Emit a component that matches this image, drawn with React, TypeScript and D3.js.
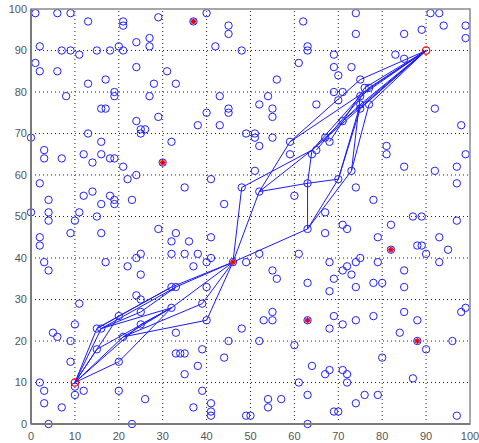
import React from 'react';
import * as d3 from 'd3';

const W = 479;
const H = 443;

const xTicks = [0, 10, 20, 30, 40, 50, 60, 70, 80, 90, 100];
const yTicks = [0, 10, 20, 30, 40, 50, 60, 70, 80, 90, 100];

// blue circle points [x, y]
const bluePoints: [number, number][] = [
  [1,99],[6,99],[9,99],[13,97],[21,97],[21,96],[29,98],[2,91],[7,90],[9,90],[11,89],[15,90],[18,90],[20,91],[21,90],[24,92],[27,93],[27,91],[1,87],[2,85],[6,85],[24,86],[13,82],[17,83],[28,82],[19,80],[19,79],[8,79],[27,79],[16,76],[17,76],[24,73],[29,74],[25,71],[26,71],[25,70],[13,70],[16,68],[0,69],[3,66],
  [40,99],[45,96],[45,94],[42,91],[48,90],[62,97],[63,91],[63,90],[61,87],[31,85],[33,82],[56,83],[43,79],[54,79],[52,77],[55,76],[55,74],[45,76],[45,75],[40,75],[65,77],[38,72],[43,72],[49,70],[51,70],[51,69],[55,69],[32,68],[52,67],[59,68],[65,66],
  [74,99],[91,99],[93,99],[94,96],[99,96],[99,93],[74,94],[85,94],[89,95],[69,89],[83,89],[85,88],[69,86],[70,84],[73,86],[75,83],[76,81],[77,81],[69,80],[71,80],[70,78],[75,79],[75,77],[75,76],[77,77],[71,73],[92,76],[98,72],[67,69],[68,68],[81,67],
  [3,64],[7,64],[12,65],[16,65],[14,63],[18,64],[19,64],[21,62],[24,60],[22,59],[2,58],[4,54],[12,55],[14,56],[18,55],[16,53],[19,54],[19,53],[23,54],[0,51],[4,51],[4,49],[11,51],[10,49],[15,50],[16,46],[9,46],[2,45],[2,43],[29,47],[3,39],[4,37],[17,39],[25,41],[24,40],[22,38],[25,36],[24,31],[25,30],
  [41,59],[35,57],[51,61],[48,57],[52,56],[63,58],[60,55],[44,53],[59,65],[64,65],[63,47],[33,46],[32,44],[36,44],[41,45],[32,41],[35,41],[38,41],[41,40],[40,39],[37,38],[49,39],[52,41],[61,41],[55,37],[56,35],[63,34],[32,33],[33,33],[40,33],
  [81,65],[99,65],[85,62],[92,61],[97,62],[97,58],[73,61],[70,59],[67,51],[74,57],[78,54],[87,50],[89,50],[97,49],[71,48],[72,47],[82,48],[67,46],[79,45],[93,45],[88,43],[89,43],[90,41],[95,42],[75,40],[74,39],[68,39],[79,39],[72,38],[71,37],[73,36],[69,35],[85,37],[93,39],[78,34],[80,34],[74,33],[85,33],[68,32],
  [11,29],[10,24],[15,23],[16,23],[20,26],[25,27],[25,24],[21,21],[5,22],[6,21],[9,20],[15,18],[9,15],[20,15],[10,9],[10,7],[2,10],[3,8],[12,8],[20,8],[3,5],[7,4],[4,0],[26,6],[23,0],
  [32,28],[39,29],[40,25],[33,22],[48,23],[45,20],[52,20],[55,27],[53,25],[55,25],[60,19],[33,17],[34,17],[35,17],[39,18],[44,16],[38,14],[35,12],[64,14],[61,10],[39,8],[63,7],[54,6],[57,6],[54,4],[37,4],[41,5],[41,3],[41,2],[49,2],[50,2],[63,0],
  [69,26],[68,23],[71,24],[74,25],[78,26],[85,27],[88,25],[84,22],[90,18],[96,20],[98,27],[99,28],[80,16],[67,12],[68,13],[71,13],[72,12],[72,10],[87,11],[76,7],[79,7],[74,5],[69,3],[70,3],[97,2],
];

// red asterisk markers
const redPoints: [number, number][] = [[37,97],[30,63],[46,39],[82,42],[63,25],[88,20]];

// start / end nodes (red circles)
const hubPoints: [number, number][] = [[10,10],[90,90]];

// network edges [x1, y1, x2, y2]
const edges: [number, number, number, number][] = [
  [10,10,15,23],[10,10,16,23],[10,10,15,18],[10,10,20,15],[10,10,21,21],[10,10,20,26],[10,10,25,24],
  [15,23,32,33],[16,23,33,33],[15,23,20,26],[16,23,25,27],[20,26,32,33],[25,27,33,33],[16,23,32,28],
  [15,18,32,28],[21,21,32,28],[21,21,39,29],[21,21,40,25],[20,15,32,28],[25,24,32,28],
  [32,33,46,39],[33,33,46,39],[32,28,46,39],[39,29,46,39],[40,25,46,39],
  [46,39,48,57],[46,39,52,56],[46,39,63,47],
  [48,57,64,66],[52,56,59,68],[52,56,64,66],[52,56,63,58],[63,58,70,59],[63,47,63,58],[63,58,64,66],
  [63,47,73,61],[63,47,70,59],
  [59,68,90,90],[59,68,75,83],[64,66,90,90],[64,66,75,79],[64,66,75,77],[65,66,77,81],[68,68,76,81],
  [71,73,90,90],[70,59,75,77],[70,59,75,76],[73,61,77,77],[73,61,75,79],
  [75,83,90,90],[76,81,90,90],[77,81,90,90],[75,79,90,90],[75,77,90,90],[77,77,90,90],[75,76,90,90],
];

const x = d3.scaleLinear().domain([0, 100]).range([31, 470]);
const y = d3.scaleLinear().domain([0, 100]).range([424, 9]);

export default function App() {
  const r = 3.7;
  const font = "'Liberation Sans', Arial, Helvetica, sans-serif";
  return (
    <svg width={W} height={H} style={{ position: 'absolute', left: 0, top: 0, background: '#fff' }}>
      <rect x={0} y={0} width={W} height={H} fill="#fff" />
      {/* grid */}
      {xTicks.slice(1, -1).map(t => (
        <line key={'gx' + t} x1={x(t)} x2={x(t)} y1={y(0)} y2={y(100)} stroke="#222" strokeWidth={1} strokeDasharray="1,3" />
      ))}
      {yTicks.slice(1, -1).map(t => (
        <line key={'gy' + t} x1={x(0)} x2={x(100)} y1={y(t)} y2={y(t)} stroke="#222" strokeWidth={1} strokeDasharray="1,3" />
      ))}
      {/* edges */}
      {edges.map((e, i) => (
        <line key={'e' + i} x1={x(e[0])} y1={y(e[1])} x2={x(e[2])} y2={y(e[3])} stroke="#1a1aff" strokeWidth={1} />
      ))}
      {/* points */}
      {bluePoints.map((p, i) => (
        <circle key={'p' + i} cx={x(p[0])} cy={y(p[1])} r={r} fill="none" stroke="#2020ff" strokeWidth={1} />
      ))}
      {redPoints.map((p, i) => {
        const cx = x(p[0]), cy = y(p[1]);
        const a = 3;
        return (
          <g key={'r' + i}>
            <circle cx={cx} cy={cy} r={r} fill="none" stroke="#2020ff" strokeWidth={1} />
            <circle cx={cx} cy={cy} r={2.6} fill="#ff5050" stroke="none" />
            <line x1={cx - a} x2={cx + a} y1={cy} y2={cy} stroke="#e00000" strokeWidth={1} />
            <line x1={cx} x2={cx} y1={cy - a} y2={cy + a} stroke="#e00000" strokeWidth={1} />
            <line x1={cx - a * 0.7} x2={cx + a * 0.7} y1={cy - a * 0.7} y2={cy + a * 0.7} stroke="#e00000" strokeWidth={1} />
            <line x1={cx - a * 0.7} x2={cx + a * 0.7} y1={cy + a * 0.7} y2={cy - a * 0.7} stroke="#e00000" strokeWidth={1} />
          </g>
        );
      })}
      {hubPoints.map((p, i) => (
        <circle key={'h' + i} cx={x(p[0])} cy={y(p[1])} r={r} fill="none" stroke="#ff0000" strokeWidth={1.2} />
      ))}
      {/* axes box */}
      <rect x={x(0)} y={y(100)} width={x(100) - x(0)} height={y(0) - y(100)} fill="none" stroke="#8a8a8a" strokeWidth={1.5} />
      <line x1={x(0)} x2={x(0)} y1={y(0)} y2={y(100)} stroke="#7a7a7a" strokeWidth={2} />
      <line x1={x(0)} x2={x(100)} y1={y(0)} y2={y(0)} stroke="#7a7a7a" strokeWidth={2} />
      {/* tick labels */}
      {xTicks.map(t => (
        <text key={'xl' + t} x={x(t)} y={440} textAnchor="middle" fontFamily={font} fontSize={11} fill="#555">{t}</text>
      ))}
      {yTicks.map(t => (
        <text key={'yl' + t} x={27} y={y(t)} dy="0.35em" textAnchor="end" fontFamily={font} fontSize={11} fill="#555">{t}</text>
      ))}
    </svg>
  );
}
